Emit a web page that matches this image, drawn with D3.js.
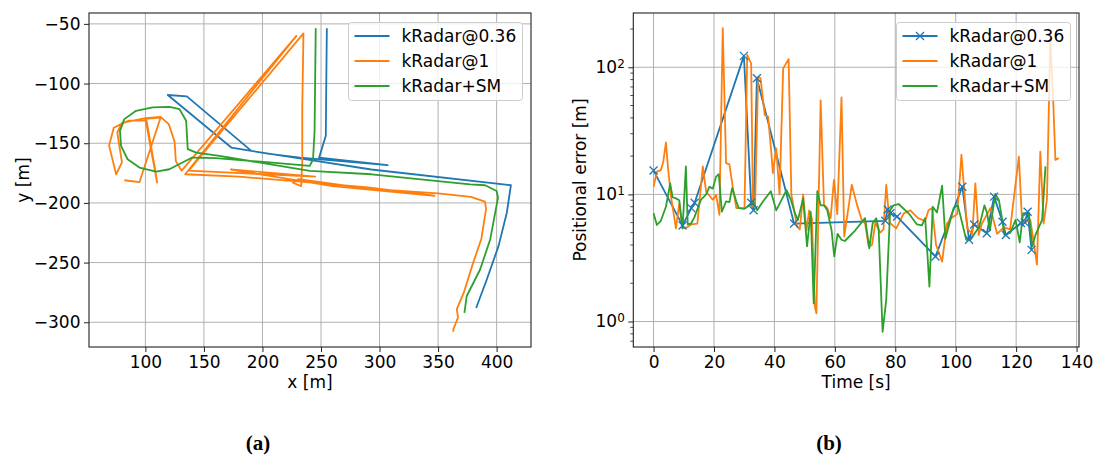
<!DOCTYPE html>
<html>
<head>
<meta charset="utf-8">
<script src="https://cdn.jsdelivr.net/npm/d3@7"></script>
<style>
  body { margin: 0; background: #fff; }
  text { font-family: "DejaVu Sans", sans-serif; }
</style>
</head>
<body>
<div id="plot"></div>
<script>
// Legend names and colours (matplotlib tab10)
var seriesNames = ["kRadar@0.36", "kRadar@1", "kRadar+SM"];
var seriesColors = ["#1f77b4", "#ff7f0e", "#2ca02c"];

// (a) trajectories, [x, y] in metres
var trackBlue = [
  [255, -53.6], [254.5, -100], [254.1, -143.8], [248.4, -162], [307, -168.4],
  [232, -162], [206, -159], [190.5, -156.4], [135.4, -110.7], [119.1, -109.6],
  [173.4, -153.6], [190.5, -156.4], [240, -164], [293, -172], [412.2, -185.2],
  [408.7, -208.2], [401.6, -236.2], [391.6, -264.2], [382.5, -288]
];
var trackOrange = [
  [82, -181], [95, -182.5], [113, -128.5], [100, -129.5], [110, -183], [109, -176], [101, -131],
  [86, -131], [79, -134], [73, -137], [69, -152], [75, -176], [80, -166], [76, -141], [80, -133],
  [100, -129], [113, -128], [120, -134], [125, -149], [126, -165], [131, -173],
  [229, -60], [134, -176],
  [180, -178], [230, -182], [290, -187], [347, -194],
  [260, -186], [173, -172], [245, -178], [137, -173],
  [235, -58], [234, -120], [234, -165], [233, -186], [226, -183], [231, -180],
  [290, -188], [350, -192], [378, -195], [390, -199], [391, -205], [387, -230],
  [380, -250], [372, -275], [366, -289], [367, -296], [363, -306], [363, -308]
];
var trackGreen = [
  [245.5, -53.6], [244.5, -140], [243.2, -163.4], [240.4, -169], [206, -166], [160, -162.5],
  [140, -162], [130, -167], [120.5, -171.8], [109.2, -173.8], [94.9, -170.4], [84.8, -163.4],
  [79.2, -152.2], [78.3, -139.6], [82, -129.8], [92, -122.8], [106.2, -120], [120.5, -119.5],
  [129.1, -121.4], [134.8, -131.2], [136.2, -155], [143.4, -157.8], [163.3, -160.6],
  [240.4, -173.2], [293.2, -176], [377.3, -184.4], [390.2, -185.2], [400, -190],
  [401.2, -195.6], [394.5, -230.6], [385.9, -255.8], [374.4, -278.2], [372.5, -292.2]
];

// (b) positional error over time, [t (s), error (m)]
var errBlue = [
  [0, 15.4], [9.6, 5.7], [12.5, 7.8], [13.6, 8.6], [29.9, 123], [32.3, 8.6], [33.1, 7.5],
  [34.2, 82], [46.5, 5.9], [76.7, 6.2], [77.5, 7.6], [78.4, 7.1], [80.6, 6.7], [93.3, 3.25],
  [102.2, 11.5], [104.4, 4.4], [106.1, 5.8], [110.3, 4.95], [112.7, 9.6], [115.5, 6.1],
  [116.6, 4.8], [121.6, 5.95], [122.9, 6.0], [123.8, 7.3], [125.1, 3.66]
];
var errOrange = [
  [0, 11.5], [1.1, 15.1], [2.4, 15.5], [3.2, 18], [4.1, 25.6], [4.8, 16], [5.8, 9.5], [7.4, 5.4],
  [8.5, 8.4], [9.6, 5.4], [11, 5.5], [12.5, 5.8], [14.5, 5.9], [16.3, 16.6], [17.4, 10.5],
  [19.6, 9.1], [20.7, 9.9], [21.8, 6.9], [22.9, 203], [24, 17.6], [25.1, 17.2], [26.2, 11.5],
  [27.4, 7.8], [30.1, 7.8], [31, 125], [32.3, 107], [32.9, 8.0], [33.6, 8.0], [34.6, 84],
  [35.4, 82], [36.8, 42], [37.9, 41], [39, 21], [39.5, 14.7], [40.6, 23], [41.7, 10],
  [42.9, 98], [44.7, 116], [45.6, 10], [47.5, 5.6], [48.4, 5.3], [49.5, 10], [50.6, 5.2],
  [51.5, 7.5], [52.4, 6.5], [53.4, 1.3], [53.9, 1.16], [55.3, 55], [56.4, 8.3], [57.5, 7.8],
  [58.6, 6.5], [59.7, 13], [60.8, 7], [62.2, 58], [63.1, 4.66], [65.6, 11.9], [67.2, 8.5],
  [68.9, 6.3], [70, 5.9], [71.2, 3.9], [72.3, 4.0], [73.4, 6.0], [75, 5.0], [76.1, 5.3],
  [77, 11.9], [78.1, 6.0], [80.3, 5.4], [82.8, 7.1], [85, 7.5], [87.5, 6.5], [89.9, 6.2],
  [91, 7.5], [92.2, 7.8], [93.5, 4], [95.5, 2.96], [97.1, 5.9], [98.5, 6.5], [100.5, 7],
  [101.9, 20.5], [103.8, 5.4], [105.5, 4.9], [106.5, 12.2], [107.6, 4.8], [108.7, 5.9],
  [111.5, 7.8], [113.7, 4.9], [116, 5.5], [118, 5.3], [120.9, 19.8], [122, 5.9], [124.7, 6.3],
  [126.9, 2.8], [128, 21.7], [129.1, 5.9], [130.2, 9.2], [131.3, 170], [132.2, 60],
  [133, 18.7], [134.1, 19.3]
];
var errGreen = [
  [0, 7.1], [1.1, 5.75], [2.4, 6.2], [4.1, 8.0], [5.5, 12.2], [6.3, 9.5], [7.4, 9.3], [8.5, 9.0],
  [9.6, 5.4], [10.7, 16.6], [11.3, 5.8], [12.4, 5.9], [13.5, 6.6], [15.7, 9.1], [17.4, 10],
  [18.5, 11.5], [19.6, 11.1], [20.7, 13.8], [21.6, 14.4], [22.6, 7.3], [24, 8.8], [25.1, 8.7],
  [26, 11.2], [27.4, 8.8], [28.2, 7.8], [30.1, 7.7], [31.8, 8.2], [32.9, 8.8], [34.3, 7.5],
  [36.2, 8.8], [38.8, 10.6], [40.6, 7.5], [44, 10.8], [45.5, 9], [46.7, 7.2], [47.8, 6.3],
  [49.5, 9.3], [50.8, 3.9], [52, 7.3], [53, 1.39], [54.2, 10.6], [55.3, 8.2], [56.4, 8.2],
  [57.5, 7.5], [58.9, 5.26], [59.8, 3.25], [60.9, 4.9], [62.2, 4.4], [63.3, 4.3], [66.7, 5.2],
  [70, 6.5], [71.4, 3.77], [72.5, 5.9], [73.7, 6.5], [74.5, 5.3], [75.8, 0.83], [77, 1.48],
  [78.3, 7.5], [79.4, 8.2], [81.1, 8.4], [84.4, 7.1], [87.2, 5.8], [88.8, 5.7], [89.9, 6.5],
  [91.3, 1.88], [92.4, 8.0], [93.8, 7.2], [95.5, 11.7], [96.6, 4.5], [99.3, 7.8], [100.7, 8.2],
  [103.5, 4.4], [104.9, 4.4], [107.8, 5.6], [109.5, 8.2], [110.4, 7.1], [111.3, 5.2],
  [113.1, 10.1], [114.3, 9.0], [115.4, 6.3], [116.1, 4.8], [118.1, 5.0], [119.8, 6.3],
  [121.2, 4.2], [122.3, 7.1], [124.2, 7.2], [125.3, 3.9], [126.4, 4.8], [128.6, 6.3], [129.7, 16.6]
];

// Tick labels
var xTicksA = [100, 150, 200, 250, 300, 350, 400];
var yTicksA = [-50, -100, -150, -200, -250, -300];
var xTicksB = [0, 20, 40, 60, 80, 100, 120, 140];
var yTicksB = [1, 10, 100];
var yMinorB = [0.7, 0.8, 0.9, 2, 3, 4, 5, 6, 7, 8, 9, 20, 30, 40, 50, 60, 70, 80, 90, 200];

function init() {
  var w = 1095;
  var h = 457;
  var fontSize = 17;

  var svg = d3.select("#plot")
    .append("svg")
    .attr("width", w)
    .attr("height", h)
    .style("background-color", "#fff");

  // matplotlib style 5% margin on each side
  function padded(ext, log) {
    if (log) {
      var a = Math.log10(ext[0]), b = Math.log10(ext[1]), m = (b - a) * 0.05;
      return [Math.pow(10, a - m), Math.pow(10, b + m)];
    }
    var m2 = (ext[1] - ext[0]) * 0.05;
    return [ext[0] - m2, ext[1] + m2];
  }

  function drawLegend(g, x0, y0, withMarker) {
    g.append("rect")
      .attr("x", x0).attr("y", y0)
      .attr("width", 174).attr("height", 78)
      .attr("rx", 3)
      .style("fill", "white").style("fill-opacity", 0.8)
      .style("stroke", "#cccccc").style("stroke-width", 1);
    seriesNames.forEach(function(name, i) {
      var yy = y0 + 13.5 + i * 25;
      g.append("line")
        .attr("x1", x0 + 6).attr("x2", x0 + 41)
        .attr("y1", yy).attr("y2", yy)
        .style("stroke", seriesColors[i]).style("stroke-width", 1.8);
      if (withMarker && i === 0) {
        g.append("path")
          .attr("d", "M-4,-4L4,4M-4,4L4,-4")
          .attr("transform", "translate(" + (x0 + 23.5) + "," + yy + ")")
          .style("stroke", seriesColors[i]).style("stroke-width", 1.3).style("fill", "none");
      }
      g.append("text")
        .attr("x", x0 + 53).attr("y", yy)
        .attr("dy", "0.35em")
        .style("font-size", fontSize + "px")
        .text(name);
    });
  }

  function styleAxis(g) {
    g.selectAll("path.domain").remove();
    g.selectAll(".tick line").style("stroke", "#222").style("stroke-width", 1);
    g.selectAll(".tick text").style("font-size", fontSize + "px")
      .style("font-family", "DejaVu Sans").style("fill", "#000");
  }

  // ---------- (a) trajectory ----------
  var A = { x0: 89, x1: 531, y0: 13, y1: 347 };
  var allA = trackBlue.concat(trackOrange, trackGreen);
  var xA = d3.scaleLinear()
    .domain(padded(d3.extent(allA, function(d) { return d[0]; })))
    .range([A.x0, A.x1]);
  var yA = d3.scaleLinear()
    .domain(padded(d3.extent(allA, function(d) { return d[1]; })))
    .range([A.y1, A.y0]);

  var gA = svg.append("g");
  // grid
  gA.selectAll("line.gx").data(xTicksA).enter().append("line")
    .attr("x1", function(d) { return xA(d); }).attr("x2", function(d) { return xA(d); })
    .attr("y1", A.y0).attr("y2", A.y1)
    .style("stroke", "#b0b0b0").style("stroke-width", 1);
  gA.selectAll("line.gy").data(yTicksA).enter().append("line")
    .attr("y1", function(d) { return yA(d); }).attr("y2", function(d) { return yA(d); })
    .attr("x1", A.x0).attr("x2", A.x1)
    .style("stroke", "#b0b0b0").style("stroke-width", 1);

  var lineA = d3.line()
    .x(function(d) { return xA(d[0]); })
    .y(function(d) { return yA(d[1]); });
  [trackBlue, trackOrange, trackGreen].forEach(function(tr, i) {
    gA.append("path")
      .attr("d", lineA(tr))
      .style("fill", "none")
      .style("stroke", seriesColors[i])
      .style("stroke-width", 1.8)
      .style("stroke-linejoin", "round");
  });

  var axXA = gA.append("g")
    .attr("transform", "translate(0," + A.y1 + ")")
    .call(d3.axisBottom(xA).tickValues(xTicksA).tickSize(5).tickPadding(4));
  styleAxis(axXA);
  var axYA = gA.append("g")
    .attr("transform", "translate(" + A.x0 + ",0)")
    .call(d3.axisLeft(yA).tickValues(yTicksA).tickSize(5).tickPadding(3.5));
  styleAxis(axYA);

  gA.append("rect")
    .attr("x", A.x0).attr("y", A.y0)
    .attr("width", A.x1 - A.x0).attr("height", A.y1 - A.y0)
    .style("fill", "none").style("stroke", "#222").style("stroke-width", 1.1);

  drawLegend(gA, 348.5, 22.5, false);

  gA.append("text")
    .attr("text-anchor", "middle")
    .attr("x", (A.x0 + A.x1) / 2)
    .attr("y", 388)
    .style("font-size", fontSize + "px")
    .text("x [m]");
  gA.append("text")
    .attr("text-anchor", "middle")
    .attr("transform", "rotate(-90)")
    .attr("x", -(A.y0 + A.y1) / 2)
    .attr("y", 29)
    .style("font-size", fontSize + "px")
    .text("y [m]");

  // ---------- (b) positional error ----------
  var B = { x0: 633.3, x1: 1079, y0: 13, y1: 347 };
  var allB = errBlue.concat(errOrange, errGreen);
  var xB = d3.scaleLinear()
    .domain(padded(d3.extent(allB, function(d) { return d[0]; })))
    .range([B.x0, B.x1]);
  var yB = d3.scaleLog()
    .domain(padded(d3.extent(allB, function(d) { return d[1]; }), true))
    .range([B.y1, B.y0]);

  var gB = svg.append("g");
  gB.selectAll("line.gx").data(xTicksB).enter().append("line")
    .attr("x1", function(d) { return xB(d); }).attr("x2", function(d) { return xB(d); })
    .attr("y1", B.y0).attr("y2", B.y1)
    .style("stroke", "#b0b0b0").style("stroke-width", 1);
  gB.selectAll("line.gy").data(yTicksB).enter().append("line")
    .attr("y1", function(d) { return yB(d); }).attr("y2", function(d) { return yB(d); })
    .attr("x1", B.x0).attr("x2", B.x1)
    .style("stroke", "#b0b0b0").style("stroke-width", 1);

  var lineB = d3.line()
    .x(function(d) { return xB(d[0]); })
    .y(function(d) { return yB(d[1]); });
  [errBlue, errOrange, errGreen].forEach(function(s, i) {
    gB.append("path")
      .attr("d", lineB(s))
      .style("fill", "none")
      .style("stroke", seriesColors[i])
      .style("stroke-width", 1.8)
      .style("stroke-linejoin", "round");
  });
  // x markers on the blue series
  gB.selectAll("path.mk").data(errBlue).enter().append("path")
    .attr("d", "M-4,-4L4,4M-4,4L4,-4")
    .attr("transform", function(d) { return "translate(" + xB(d[0]) + "," + yB(d[1]) + ")"; })
    .style("stroke", seriesColors[0]).style("stroke-width", 1.3).style("fill", "none");

  var axXB = gB.append("g")
    .attr("transform", "translate(0," + B.y1 + ")")
    .call(d3.axisBottom(xB).tickValues(xTicksB).tickSize(5).tickPadding(4));
  styleAxis(axXB);
  var axYB = gB.append("g")
    .attr("transform", "translate(" + B.x0 + ",0)")
    .call(d3.axisLeft(yB).tickValues(yTicksB).tickSize(5).tickPadding(3.5));
  styleAxis(axYB);
  // 10^k labels
  axYB.selectAll(".tick text").each(function(d) {
    var t = d3.select(this);
    t.text(null);
    t.append("tspan").text("10");
    t.append("tspan")
      .attr("dy", "-0.45em")
      .style("font-size", "12px")
      .text(Math.round(Math.log10(d)));
  });
  axYB.selectAll("line.minor").data(yMinorB).enter().append("line")
    .attr("x1", -3).attr("x2", 0)
    .attr("y1", function(d) { return yB(d); }).attr("y2", function(d) { return yB(d); })
    .style("stroke", "#222").style("stroke-width", 0.8);

  gB.append("rect")
    .attr("x", B.x0).attr("y", B.y0)
    .attr("width", B.x1 - B.x0).attr("height", B.y1 - B.y0)
    .style("fill", "none").style("stroke", "#222").style("stroke-width", 1.1);

  drawLegend(gB, 896.5, 22.5, true);

  gB.append("text")
    .attr("text-anchor", "middle")
    .attr("x", (B.x0 + B.x1) / 2)
    .attr("y", 388)
    .style("font-size", fontSize + "px")
    .text("Time [s]");
  gB.append("text")
    .attr("text-anchor", "middle")
    .attr("transform", "rotate(-90)")
    .attr("x", -(B.y0 + B.y1) / 2)
    .attr("y", 586)
    .style("font-size", fontSize + "px")
    .text("Positional error [m]");

  // sub-figure captions
  svg.append("text")
    .attr("text-anchor", "middle")
    .attr("x", 258).attr("y", 450)
    .style("font-family", "Liberation Serif, serif")
    .style("font-weight", "bold")
    .style("font-size", "21px")
    .text("(a)");
  svg.append("text")
    .attr("text-anchor", "middle")
    .attr("x", 829).attr("y", 450)
    .style("font-family", "Liberation Serif, serif")
    .style("font-weight", "bold")
    .style("font-size", "21px")
    .text("(b)");
}

window.onload = init;
</script>
</body>
</html>
